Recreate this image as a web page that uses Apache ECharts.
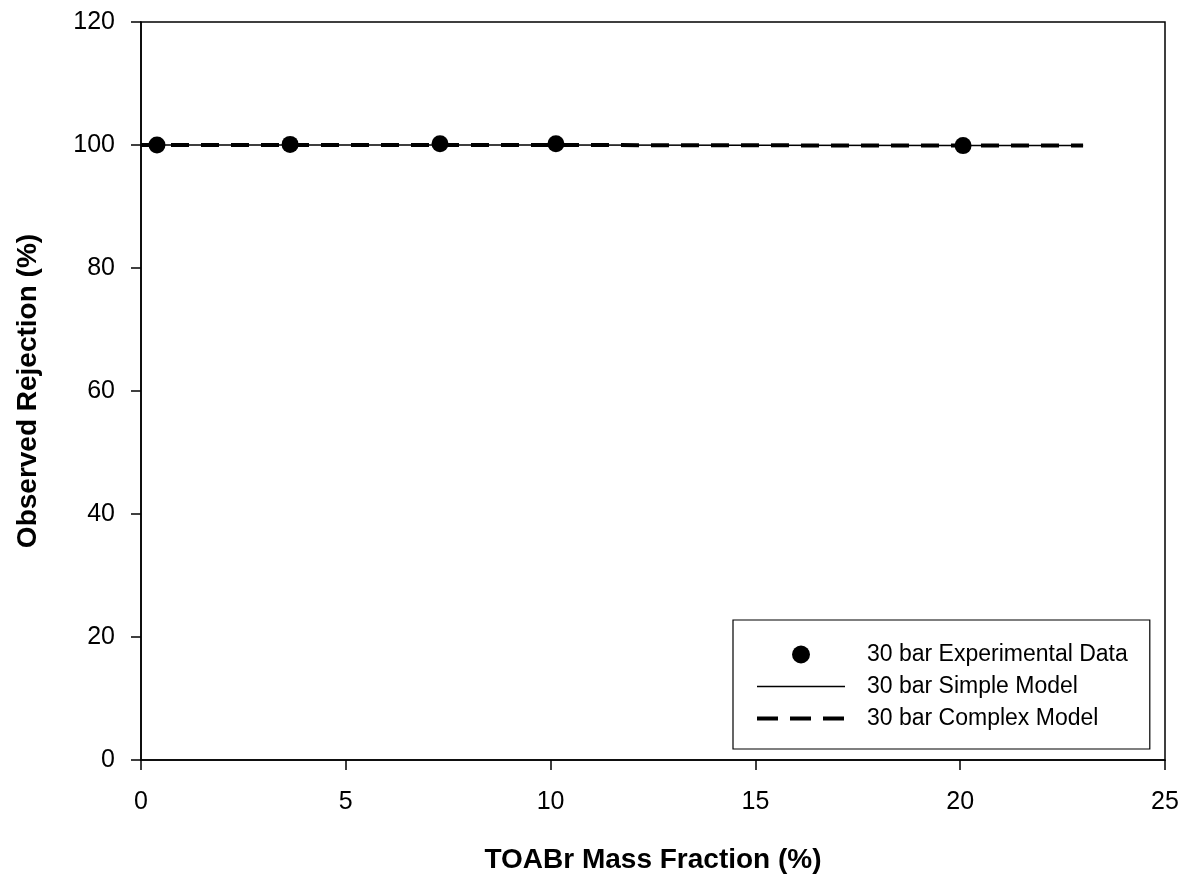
<!DOCTYPE html>
<html><head><meta charset="utf-8">
<script src="https://cdn.jsdelivr.net/npm/echarts@6/dist/echarts.min.js"></script>
<style>html,body{margin:0;padding:0;background:#fff}#c{width:1195px;height:882px}</style>
</head><body><div id="c"></div>
<script>
const expX = [0.39, 3.64, 7.3, 10.13, 20.07];
const expY = [100.0, 100.1, 100.2, 100.2, 99.9];
const simpleX = [0.0, 5, 10, 15, 20, 23.0];
const simpleY = [100.0, 100.0, 100.0, 99.95, 99.9, 99.9];
const complexX = [0.0, 5, 10, 15, 20, 23.0];
const complexY = [100.0, 100.0, 100.0, 99.95, 99.9, 99.9];
const seriesNames = ['30 bar Experimental Data', '30 bar Simple Model', '30 bar Complex Model'];
const xTitle = 'TOABr Mass Fraction (%)';
const yTitle = 'Observed Rejection (%)';

const zip = (a, b) => a.map((v, i) => [v, b[i]]);
const font = 'Liberation Sans, Arial, sans-serif';
const chart = echarts.init(document.getElementById('c'), null, {renderer: 'canvas'});
chart.setOption({
  animation: false,
  backgroundColor: '#fff',
  grid: {left: 141, top: 22, width: 1024, height: 738, show: true, borderColor: '#000', borderWidth: 1.5, backgroundColor: 'transparent'},
  xAxis: {
    type: 'value', min: 0, max: 25, interval: 5,
    name: xTitle, nameLocation: 'middle', nameGap: 86,
    nameTextStyle: {fontFamily: font, fontSize: 28, fontWeight: 'bold', color: '#000'},
    axisLine: {lineStyle: {color: '#000', width: 1.5}},
    axisTick: {inside: false, length: 10, lineStyle: {color: '#000', width: 1.5}},
    axisLabel: {fontFamily: font, fontSize: 25, color: '#000', margin: 30},
    splitLine: {show: false}
  },
  yAxis: {
    type: 'value', min: 0, max: 120, interval: 20,
    name: yTitle, nameLocation: 'middle', nameGap: 99, nameRotate: 90,
    nameTextStyle: {fontFamily: font, fontSize: 28, fontWeight: 'bold', color: '#000'},
    axisLine: {lineStyle: {color: '#000', width: 1.5}},
    axisTick: {inside: false, length: 10, lineStyle: {color: '#000', width: 1.5}},
    axisLabel: {fontFamily: font, fontSize: 25, color: '#000', margin: 26},
    splitLine: {show: false}
  },
  legend: {
    orient: 'vertical', left: 733, top: 620,
    padding: [23, 22, 19, 22],
    backgroundColor: '#fff',
    borderColor: '#000', borderWidth: 1.2,
    itemWidth: 88, itemHeight: 18, itemGap: 9,
    textStyle: {fontFamily: font, fontSize: 23, color: '#000', lineHeight: 18, padding: [0, 0, 0, 17]},
    data: [
      {name: seriesNames[0]},
      {name: seriesNames[1], itemStyle: {opacity: 0}, lineStyle: {width: 1.5, color: '#000'}},
      {name: seriesNames[2], itemStyle: {opacity: 0}, lineStyle: {width: 4, color: '#000', type: [21, 12]}}
    ]
  },
  series: [
    {
      name: seriesNames[1], type: 'line', data: zip(simpleX, simpleY),
      symbol: 'none', lineStyle: {color: '#000', width: 1.5}, itemStyle: {color: '#000'}, z: 2
    },
    {
      name: seriesNames[2], type: 'line', data: zip(complexX, complexY),
      symbol: 'none', lineStyle: {color: '#000', width: 4, type: [18, 12]}, itemStyle: {color: '#000'}, z: 3
    },
    {
      name: seriesNames[0], type: 'scatter', data: zip(expX, expY),
      symbol: 'circle', symbolSize: 17, itemStyle: {color: '#000', opacity: 1}, z: 4
    }
  ]
});
</script></body></html>
